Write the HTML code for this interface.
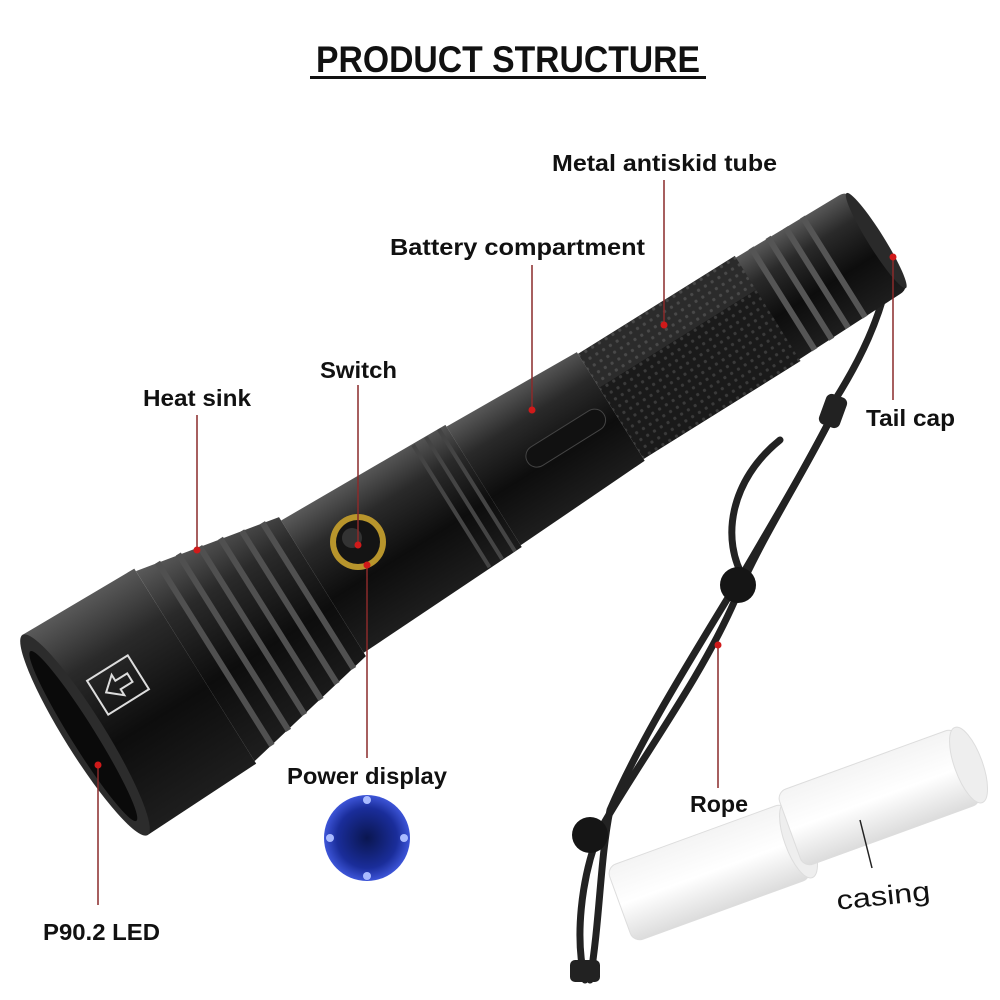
<!DOCTYPE html>
<html><head><meta charset="utf-8"><style>
html,body{margin:0;padding:0;background:#fff;}
svg{display:block}
text{font-family:"Liberation Sans",sans-serif;font-weight:bold;fill:#111}
</style></head><body>
<svg width="1000" height="1000" viewBox="0 0 1000 1000" xmlns="http://www.w3.org/2000/svg">
<defs>
<linearGradient id="bd" x1="0" y1="0" x2="0" y2="1">
<stop offset="0" stop-color="#5a5a5a"/><stop offset="0.25" stop-color="#2a2a2a"/><stop offset="0.6" stop-color="#0d0d0d"/><stop offset="1" stop-color="#1e1e1e"/>
</linearGradient>
<pattern id="kn" width="8" height="8" patternUnits="userSpaceOnUse">
<rect width="8" height="8" fill="#1a1a1a"/><circle cx="4" cy="4" r="1.6" fill="#3a3a3a"/>
</pattern>
<radialGradient id="bl" cx="0.5" cy="0.5" r="0.5">
<stop offset="0" stop-color="#0a1650"/><stop offset="0.7" stop-color="#1a2d9a"/><stop offset="1" stop-color="#3d55d8"/>
</radialGradient>
<linearGradient id="cs" x1="0" y1="0" x2="0" y2="1">
<stop offset="0" stop-color="#f4f4f4"/><stop offset="0.5" stop-color="#ffffff"/><stop offset="1" stop-color="#dcdcdc"/>
</linearGradient>
</defs>

<text x="316" y="72" font-size="37" textLength="384" lengthAdjust="spacingAndGlyphs">PRODUCT STRUCTURE</text>
<rect x="310" y="76" width="396" height="3" fill="#111"/>

<!-- casings -->
<g transform="translate(620,905) rotate(-20)">
<rect x="0" y="-40" width="190" height="80" rx="10" fill="url(#cs)" stroke="#ddd"/>
<ellipse cx="190" cy="0" rx="14" ry="40" fill="#eee" stroke="#ddd"/>
</g>
<g transform="translate(790,830) rotate(-20)">
<rect x="0" y="-40" width="190" height="80" rx="10" fill="url(#cs)" stroke="#ddd"/>
<ellipse cx="190" cy="0" rx="14" ry="40" fill="#eee" stroke="#ddd"/>
</g>

<!-- rope -->
<g fill="none" stroke="#222" stroke-width="7" stroke-linecap="round">
<path d="M890 270 C880 320 860 360 835 400"/>
<path d="M835 410 C800 480 760 540 735 600 C700 680 640 760 600 830 C580 880 575 940 585 980"/>
<path d="M835 410 C810 460 780 510 745 570 C690 660 640 740 610 810 C600 860 600 920 590 980"/>
<path d="M745 580 C720 540 730 480 780 440"/>
</g>
<rect x="822" y="395" width="22" height="32" rx="6" fill="#222" transform="rotate(20 833 411)"/>
<circle cx="738" cy="585" r="18" fill="#151515"/>
<circle cx="590" cy="835" r="18" fill="#151515"/>
<rect x="570" y="960" width="30" height="22" rx="5" fill="#222"/>

<!-- flashlight -->
<g transform="translate(85,735) rotate(-32)">
<path d="M800 -60 L925 -58 Q935 -58 935 -48 L935 48 Q935 58 925 58 L800 60 Z" fill="url(#bd)"/>
<g fill="#555">
<rect x="820" y="-60" width="6" height="120"/><rect x="840" y="-60" width="6" height="120"/><rect x="860" y="-59" width="6" height="118"/><rect x="880" y="-59" width="6" height="118"/>
</g>
<ellipse cx="933" cy="0" rx="8" ry="56" fill="#2a2a2a"/>
<rect x="620" y="-62" width="185" height="124" fill="url(#kn)"/>
<rect x="620" y="-62" width="185" height="40" fill="#ffffff" opacity="0.08"/>
<path d="M470 -70 L620 -64 L620 64 L470 70 Z" fill="url(#bd)"/>
<rect x="520" y="-8" width="90" height="22" rx="11" fill="#111" stroke="#444"/>
<path d="M280 -78 L470 -72 L470 72 L280 78 Z" fill="url(#bd)"/>
<g fill="#444"><rect x="430" y="-72" width="4" height="144"/><rect x="445" y="-72" width="4" height="144"/><rect x="460" y="-72" width="4" height="144"/></g>
<path d="M130 -112 L280 -82 L280 82 L130 112 Z" fill="url(#bd)"/>
<g fill="#505050"><rect x="150" y="-108" width="6" height="216"/><rect x="172" y="-104" width="6" height="208"/><rect x="194" y="-99" width="6" height="198"/><rect x="216" y="-95" width="6" height="190"/><rect x="238" y="-90" width="6" height="180"/><rect x="260" y="-86" width="6" height="172"/></g>
<path d="M0 -118 L130 -115 L130 115 L0 118 Z" fill="url(#bd)"/>
<ellipse cx="0" cy="0" rx="20" ry="118" fill="#2c2c2c"/>
<ellipse cx="-2" cy="0" rx="12" ry="100" fill="#0a0a0a"/>
</g>
<g transform="translate(118,685) rotate(-32)" fill="none" stroke="#ddd" stroke-width="2">
<rect x="-24" y="-20" width="48" height="40"/>
<path d="M-14 0 L0 -12 L0 -5 L14 -5 L14 5 L0 5 L0 12 Z"/>
</g>
<circle cx="358" cy="542" r="28" fill="#b8952c"/>
<circle cx="358" cy="542" r="22" fill="#141414"/>
<circle cx="352" cy="538" r="10" fill="#333"/>

<circle cx="367" cy="838" r="43" fill="url(#bl)"/>
<g fill="#aabbff"><circle cx="367" cy="800" r="4"/><circle cx="367" cy="876" r="4"/><circle cx="330" cy="838" r="4"/><circle cx="404" cy="838" r="4"/></g>

<g stroke="#8a2a2a" stroke-width="1.5">
<line x1="664" y1="180" x2="664" y2="325"/>
<line x1="532" y1="265" x2="532" y2="410"/>
<line x1="358" y1="385" x2="358" y2="545"/>
<line x1="197" y1="415" x2="197" y2="550"/>
<line x1="893" y1="257" x2="893" y2="400"/>
<line x1="367" y1="565" x2="367" y2="758"/>
<line x1="98" y1="765" x2="98" y2="905"/>
<line x1="718" y1="645" x2="718" y2="788"/>
</g>
<line x1="860" y1="820" x2="872" y2="868" stroke="#222" stroke-width="1.5"/>
<g fill="#d01a1a">
<circle cx="664" cy="325" r="3.5"/><circle cx="532" cy="410" r="3.5"/><circle cx="358" cy="545" r="3.5"/><circle cx="197" cy="550" r="3.5"/><circle cx="893" cy="257" r="3.5"/><circle cx="367" cy="565" r="3.5"/><circle cx="98" cy="765" r="3.5"/><circle cx="718" cy="645" r="3.5"/>
</g>

<text x="552" y="171" font-size="23" textLength="225" lengthAdjust="spacingAndGlyphs">Metal antiskid tube</text>
<text x="390" y="255" font-size="23" textLength="255" lengthAdjust="spacingAndGlyphs">Battery compartment</text>
<text x="320" y="378" font-size="23" textLength="77" lengthAdjust="spacingAndGlyphs">Switch</text>
<text x="143" y="406" font-size="23" textLength="108" lengthAdjust="spacingAndGlyphs">Heat sink</text>
<text x="866" y="426" font-size="23" textLength="89" lengthAdjust="spacingAndGlyphs">Tail cap</text>
<text x="287" y="784" font-size="23" textLength="160" lengthAdjust="spacingAndGlyphs">Power display</text>
<text x="43" y="940" font-size="23" textLength="117" lengthAdjust="spacingAndGlyphs">P90.2 LED</text>
<text x="690" y="812" font-size="23" textLength="58" lengthAdjust="spacingAndGlyphs">Rope</text>
<text x="836" y="905" font-size="27" fill="#333" transform="rotate(-6 882 893)" style="font-weight:normal" textLength="94" lengthAdjust="spacingAndGlyphs">casing</text>
</svg>
</body></html>
